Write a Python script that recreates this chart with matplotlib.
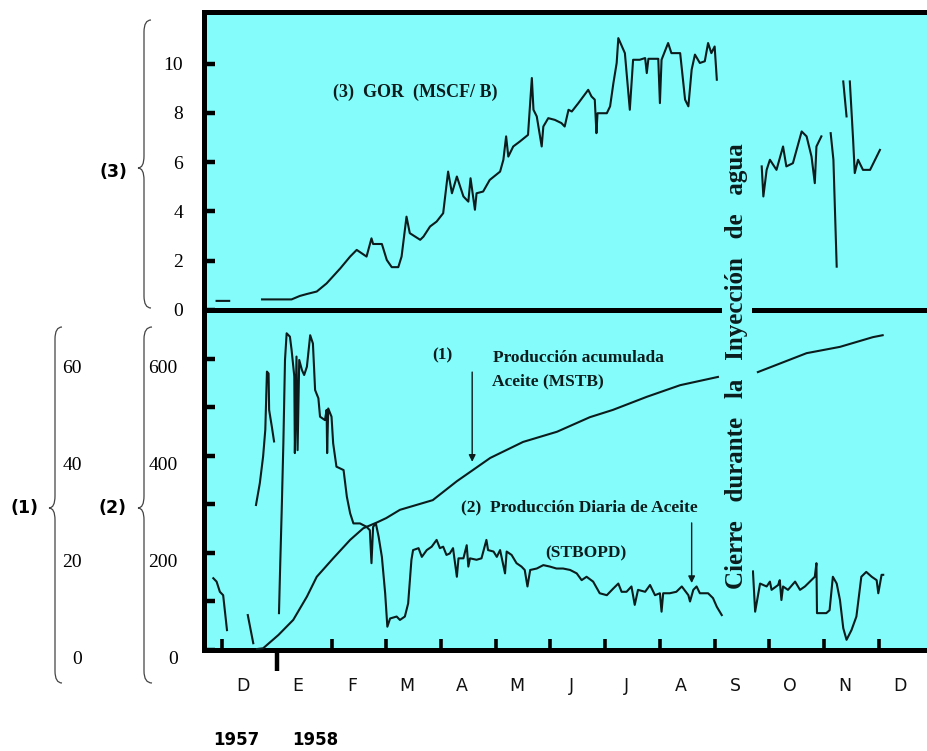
import numpy as np
import matplotlib
matplotlib.use('Agg')
import matplotlib.pyplot as plt
import matplotlib.transforms as mtransforms
from matplotlib.path import Path
from matplotlib.patches import PathPatch

nan = np.nan

# x = months counted from 1 Dec 1957
months = ['D', 'E', 'F', 'M', 'A', 'M', 'J', 'J', 'A', 'S', 'O', 'N', 'D']
years = ['1957', '1958']
year_x = [0.26, 1.70]

# (3) GOR, MSCF/B
gor_t = [-0.10, 0.13, nan,
         0.73, 1.27, 1.42, 1.55, 1.73, 1.91, 2.16, 2.34, 2.46, 2.64,
         2.73, 2.76, 2.92, 3.01, 3.10, 3.22, 3.28, 3.37, 3.43, 3.62,
         3.68, 3.80, 3.92, 4.04, 4.13, 4.20, 4.29, 4.41, 4.50, 4.54,
         4.62, 4.65, 4.77, 4.89, 5.08, 5.14, 5.19, 5.23, 5.32, 5.44,
         5.59, 5.66, 5.69, 5.75, 5.84, 5.87, 5.96, 6.08, 6.20, 6.26,
         6.33, 6.39, 6.51, 6.60, 6.69, 6.75, 6.81, 6.84, 6.86, 7.03,
         7.09, 7.15, 7.21, 7.24, 7.36, 7.45, 7.51, 7.63, 7.73, 7.76,
         7.79, 7.97, 8.00, 8.03, 8.15, 8.21, 8.37, 8.46, 8.52, 8.58,
         8.64, 8.73, 8.82, 8.88, 8.94, 9.00, 9.04, nan,
         9.86, 9.89, 9.95, 10.01, 10.13, 10.25, 10.31, 10.43, 10.59, 10.68,
         10.77, 10.83, 10.86, 10.95, nan,
         11.12, 11.17, 11.23, nan,
         11.35, 11.41, nan,
         11.47, 11.53, 11.56, 11.62, 11.71, 11.84, 12.02]
gor = [0.37, 0.37, nan,
       0.43, 0.43, 0.57, 0.65, 0.75, 1.08, 1.69, 2.17, 2.44, 2.17,
       2.91, 2.68, 2.68, 2.03, 1.74, 1.74, 2.17, 3.79, 3.12, 2.85,
       2.98, 3.39, 3.59, 3.93, 5.62, 4.74, 5.42, 4.61, 4.40, 5.35,
       4.07, 4.74, 4.81, 5.28, 5.62, 6.10, 7.05, 6.23, 6.64, 6.84,
       7.11, 9.42, 8.13, 7.86, 6.64, 7.45, 7.79, 7.72, 7.59, 7.45,
       8.13, 8.06, 8.40, 8.67, 8.94, 8.67, 8.54, 7.18, 7.99, 7.99,
       8.27, 9.21, 10.03, 11.04, 10.43, 8.13, 10.16, 10.16, 10.23, 9.62,
       10.20, 10.20, 8.40, 10.16, 10.84, 10.43, 10.43, 8.54, 8.27, 9.76,
       10.37, 10.03, 10.10, 10.84, 10.43, 10.70, 9.35, nan,
       5.83, 4.61, 5.69, 6.10, 5.69, 6.64, 5.83, 5.96, 7.25, 7.05,
       6.23, 5.15, 6.64, 7.05, nan,
       7.18, 6.10, 1.76, nan,
       9.28, 7.86, nan,
       9.28, 6.91, 5.56, 6.10, 5.69, 5.69, 6.50]

# (2) daily oil production, STBOPD
rate_t = [-0.16, -0.10, -0.04, 0.02, 0.09, nan,
          0.47, 0.57, nan,
          0.62, 0.69, 0.75, 0.79, 0.82, 0.85, 0.86, 0.91, 0.95, nan,
          1.04, 1.06, 1.09, 1.12, 1.15, 1.18, 1.24, 1.27, 1.32, 1.33,
          1.36, 1.38, 1.41, 1.46, 1.50, 1.55, 1.61, 1.66, 1.70, 1.76,
          1.79, 1.88, 1.91, 1.92, 1.94, 2.00, 2.03, 2.09, 2.22, 2.28,
          2.34, 2.40, 2.52, 2.64, 2.70, 2.73, 2.76, 2.81, 2.86, 2.92,
          2.98, 3.02, 3.07, 3.19, 3.25, 3.34, 3.40, 3.46, 3.49, 3.59,
          3.65, 3.74, 3.83, 3.92, 3.98, 4.04, 4.10, 4.16, 4.22, 4.29,
          4.32, 4.41, 4.47, 4.50, 4.53, 4.65, 4.74, 4.83, 4.86, 4.96,
          5.02, 5.08, 5.17, 5.20, 5.29, 5.38, 5.47, 5.53, 5.58, 5.63,
          5.75, 5.87, 5.99, 6.11, 6.23, 6.36, 6.48, 6.57, 6.66, 6.78,
          6.90, 7.03, 7.15, 7.24, 7.30, 7.39, 7.48, 7.54, 7.60, 7.73,
          7.82, 7.91, 8.00, 8.03, 8.06, 8.18, 8.30, 8.40, 8.52, 8.55,
          8.61, 8.67, 8.73, 8.88, 8.97, 9.04, 9.13, nan,
          9.70, 9.74, 9.80, 9.83, 9.95, 10.01, 10.04, 10.16, 10.19, 10.22,
          10.25, 10.34, 10.47, 10.56, 10.65, 10.74, 10.83, 10.86, 10.87, 11.04,
          11.10, 11.16, 11.23, 11.29, 11.35, 11.41, 11.50, 11.59, 11.68, 11.77,
          11.87, 11.96, 11.99, 12.05, 12.08]
rate = [148, 141, 120, 113, 41, nan,
        72, 14, nan,
        299, 344, 399, 454, 574, 570, 495, 460, 430, nan,
        76, 165, 289, 426, 598, 653, 646, 619, 564, 406,
        605, 412, 598, 577, 567, 584, 649, 632, 536, 519,
        481, 474, 495, 406, 498, 481, 426, 378, 371, 316,
        282, 261, 261, 254, 247, 179, 254, 261, 234, 192,
        117, 48, 65, 69, 62, 69, 96, 186, 206, 210,
        192, 206, 213, 227, 210, 213, 196, 199, 210, 151,
        189, 189, 216, 172, 189, 186, 189, 227, 206, 203,
        192, 206, 158, 203, 196, 179, 172, 165, 131, 165,
        168, 175, 172, 168, 168, 165, 158, 144, 151, 141,
        117, 113, 127, 137, 120, 120, 131, 93, 124, 120,
        134, 113, 117, 79, 117, 117, 120, 131, 113, 100,
        124, 131, 117, 117, 107, 89, 72, nan,
        162, 79, 117, 137, 131, 141, 124, 134, 144, 103,
        131, 124, 141, 124, 131, 141, 151, 179, 76, 76,
        82, 151, 137, 103, 45, 21, 41, 69, 151, 161,
        151, 144, 117, 155, 155]

# (1) cumulative oil, MSTB
cum_t = [0.64, 0.75, 1.03, 1.30, 1.55, 1.73, 2.03, 2.34, 2.58, 2.83, 3.00,
         3.25, 3.85, 4.29, 4.57, 4.90, 5.50, 6.12, 6.72, 7.14, 7.76, 8.37,
         9.06, nan, 9.79, 10.68, 11.29, 11.89, 12.07]
cum = [0.2, 0.35, 3.1, 6.2, 11.0, 15.1, 18.9, 22.7, 25.1, 26.3, 27.2,
       28.9, 30.9, 34.8, 37.0, 39.6, 42.9, 45.0, 48.0, 49.5, 52.2, 54.6,
       56.3, nan, 57.3, 61.2, 62.5, 64.5, 64.9]

gor_ticks = [0, 2, 4, 6, 8, 10]
rate_ticks = [0, 200, 400, 600]
rate_minor = [100, 300, 500]
cum_ticks = [0, 20, 40, 60]

BG = '#84FCFC'
INK = '#0c1c1c'
W, H = 927, 751

plt.rcParams['font.family'] = ['Liberation Serif', 'DejaVu Serif']

fig = plt.figure(figsize=(W / 100, H / 100), dpi=100)


def fx(px):
    return px / W


def fy(py):
    return 1 - py / H


ax_gor = fig.add_axes([fx(204), fy(310), 1 - fx(204), fy(12) - fy(310)])
ax_rate = fig.add_axes([fx(204), fy(650), 1 - fx(204), fy(310) - fy(650)])
xlim = (-0.33, 12.88)

for ax in (ax_gor, ax_rate):
    ax.set_facecolor(BG)
    ax.set_xlim(*xlim)
    ax.spines['right'].set_visible(False)
    for s in ('left', 'top', 'bottom'):
        ax.spines[s].set_linewidth(3.6)
        ax.spines[s].set_color('black')
ax_gor.spines['bottom'].set_visible(False)

# upper panel: GOR
ax_gor.plot(gor_t, gor, color=INK, lw=1.5)
ax_gor.set_ylim(0, 12.1)
ax_gor.set_yticks(gor_ticks)
ax_gor.set_xticks([])
ax_gor.tick_params(axis='y', direction='in', length=8, width=3.2, pad=15,
                   labelsize=14)
ax_gor.text(2.03, 8.82, '(3)  GOR  (MSCF/ B)', fontsize=13, fontweight='bold',
            ha='left', va='center', color=INK)

# lower panel: daily rate
ax_rate.plot(rate_t, rate, color=INK, lw=1.5)
ax_rate.set_ylim(0, 701)
ax_rate.set_yticks(rate_ticks)
ax_rate.set_yticks(rate_minor, minor=True)
ax_rate.tick_params(axis='y', which='both', direction='in', length=8,
                    width=3.2, pad=19, labelsize=14)
ax_rate.set_xticks([i for i in range(len(months)) if i != 1])
ax_rate.set_xticks([1], minor=True)
ax_rate.tick_params(axis='x', which='major', direction='in', length=8,
                    width=2.6, labelbottom=False)
ax_rate.tick_params(axis='x', which='minor', direction='out', length=15,
                    width=3.2, labelbottom=False)

lab_tr = mtransforms.blended_transform_factory(ax_rate.transData, ax_rate.transAxes)
for i, m in enumerate(months):
    ax_rate.text(i + 0.38, -0.106, m, transform=lab_tr, ha='center', va='center',
                 fontsize=12.5, family='DejaVu Sans', color='#111111')
for x, y in zip(year_x, years):
    ax_rate.text(x, -0.265, y, transform=lab_tr, ha='center', va='center',
                 fontsize=12, fontweight='bold', family='DejaVu Sans')

# cumulative on its own scale (1)
ax_cum = ax_rate.twinx()
ax_cum.plot(cum_t, cum, color=INK, lw=1.5)
ax_cum.set_ylim(0, 70.1)
ax_cum.yaxis.tick_left()
ax_cum.set_yticks(cum_ticks)
ax_cum.tick_params(axis='y', length=0, pad=88, labelsize=14)
for s in ax_cum.spines.values():
    s.set_visible(False)

# the scanned labels of the lower scales sit a little below their ticks
shift = mtransforms.ScaledTranslation(0, -0.08, fig.dpi_scale_trans)
for lbl in ax_rate.get_yticklabels() + ax_cum.get_yticklabels():
    lbl.set_transform(lbl.get_transform() + shift)

# annotations
txt = dict(fontsize=12.5, fontweight='bold', color=INK, va='center')
ax_rate.text(4.02, 608, '(1)', ha='center', **txt)
ax_rate.text(4.95, 602, 'Producción acumulada', ha='left', **txt)
ax_rate.text(4.93, 553, 'Aceite (MSTB)', ha='left', **txt)
ax_rate.text(4.37, 293, '(2)  Producción Diaria de Aceite', ha='left', **txt)
ax_rate.text(5.90, 200, '(STBOPD)', ha='left', **txt)
arrow = dict(arrowstyle='-|>', color=INK, lw=1.0, mutation_scale=10,
             shrinkA=0, shrinkB=0)
ax_rate.annotate('', xy=(4.57, 388), xytext=(4.57, 573), arrowprops=arrow)
ax_rate.annotate('', xy=(8.58, 138), xytext=(8.58, 262), arrowprops=arrow)

fig.text(fx(737), fy(366), 'Cierre   durante   la   Inyección   de   agua',
         rotation=90, ha='center', va='center', fontsize=18, fontweight='bold',
         color=INK, zorder=10,
         bbox=dict(facecolor=BG, edgecolor='none', boxstyle='square,pad=0.15'))


# curly braces on the left
def brace(xv, xtip, xend, ytop, ybot, ymid, r=12):
    pts = [(xend, ytop), (xv, ytop), (xv, ytop + r),
           (xv, ymid - r), (xv, ymid), (xtip, ymid),
           (xv, ymid), (xv, ymid + r),
           (xv, ybot - r), (xv, ybot), (xend, ybot)]
    codes = [Path.MOVETO, Path.CURVE3, Path.CURVE3,
             Path.LINETO, Path.CURVE3, Path.CURVE3,
             Path.CURVE3, Path.CURVE3,
             Path.LINETO, Path.CURVE3, Path.CURVE3]
    path = Path([(fx(x), fy(y)) for x, y in pts], codes)
    fig.add_artist(PathPatch(path, transform=fig.transFigure, fill=False,
                             edgecolor='#444444', lw=0.9))


brace(144, 138, 151, 20, 308, 168)
brace(144, 138, 152, 327, 683, 508)
brace(55, 49, 62, 327, 683, 508)

lab = dict(fontsize=12.5, fontweight='bold', family='DejaVu Sans',
           ha='center', va='center')
fig.text(fx(113), fy(172), '(3)', **lab)
fig.text(fx(113), fy(508), '(2)', **lab)
fig.text(fx(25), fy(508), '(1)', **lab)

fig.savefig('out.png', dpi=100, facecolor='white')
